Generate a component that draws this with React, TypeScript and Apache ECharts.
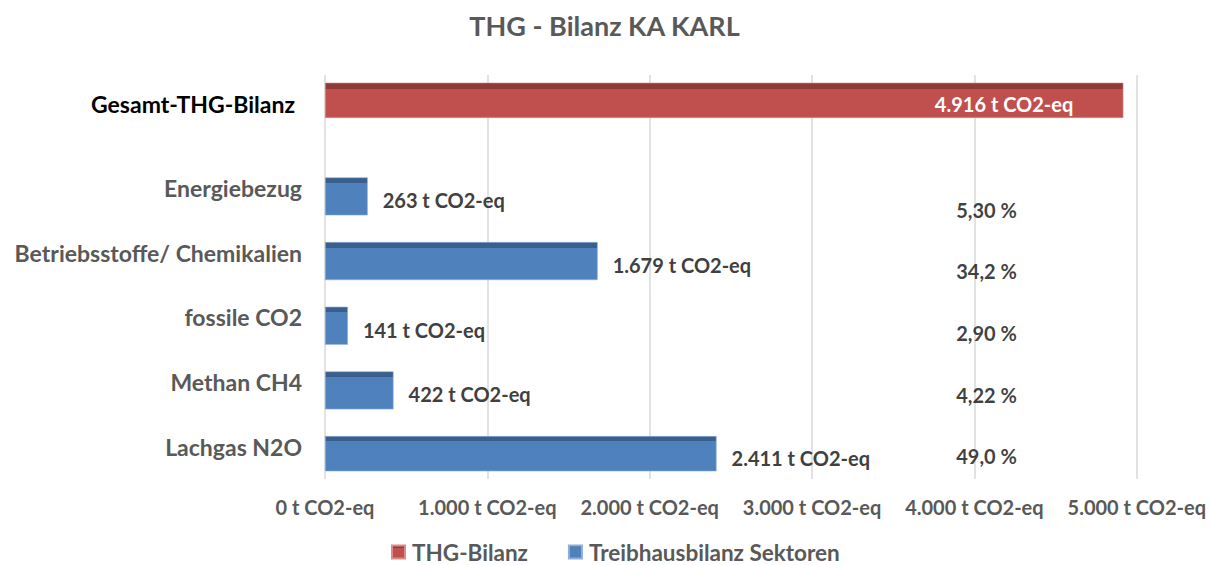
import React, { useEffect, useRef } from "react";
import * as echarts from "echarts";

const TITLE = "THG - Bilanz KA KARL";
const TOTAL_LABEL = "Gesamt-THG-Bilanz";
const TOTAL_VALUE = 4916;
const SECTORS = ["Energiebezug", "Betriebsstoffe/ Chemikalien", "fossile CO2", "Methan CH4", "Lachgas N2O"];
const SECTOR_VALUES = [263, 1679, 141, 422, 2411];
const SECTOR_PERCENTS = [5.30, 34.2, 2.90, 4.22, 49.0];
const X_TICKS = [0, 1000, 2000, 3000, 4000, 5000];
const SERIES_NAMES = ["THG-Bilanz", "Treibhausbilanz Sektoren"];

const FONT = "Lato, 'Noto Sans', sans-serif";
const RED = "#C0504D";
const RED_DARK = "#8E3A38";
const BLUE = "#4F81BD";
const BLUE_DARK = "#3A5F8C";

function fmtThousands(v: number): string {
  const s = Math.round(v).toString();
  return s.replace(/\B(?=(\d{3})+(?!\d))/g, ".");
}
function fmtPct(v: number): string {
  return v.toPrecision(3).replace(".", ",") + " %";
}
function bandFill(light: string, dark: string, band: number) {
  return new echarts.graphic.LinearGradient(0, 0, 0, 1, [
    { offset: 0, color: dark },
    { offset: band, color: dark },
    { offset: band, color: light },
    { offset: 1, color: light },
  ]);
}

export default function App() {
  const ref = useRef<HTMLDivElement>(null);
  useEffect(() => {
    document.body.style.margin = "0";
    if (!ref.current) return;
    const chart = echarts.init(ref.current, null, { renderer: "svg" });
    const categories = [TOTAL_LABEL, ...SECTORS];
    const redData = categories.map((_, i) => (i === 0 ? TOTAL_VALUE : "-"));
    const blueData = categories.map((_, i) => (i === 0 ? "-" : SECTOR_VALUES[i - 1]));
    const xMax = X_TICKS[X_TICKS.length - 1];
    const xInterval = X_TICKS[1] - X_TICKS[0];
    const pctAnchor = X_TICKS[4];

    const gridBase = { left: 325, right: 72, containLabel: false };
    const option: any = {
      animation: false,
      backgroundColor: "#ffffff",
      title: {
        text: TITLE,
        left: "center",
        top: 7,
        textStyle: { fontFamily: FONT, fontSize: 27, fontWeight: "bold", color: "#595959" },
      },
      legend: {
        data: SERIES_NAMES,
        top: 540,
        left: 391,
        padding: 0,
        icon: "rect",
        itemWidth: 13,
        itemHeight: 13,
        itemGap: 40,
        textStyle: {
          fontFamily: FONT,
          fontSize: 22.5,
          lineHeight: 24,
          fontWeight: "bold",
          color: "#595959",
          padding: [0, 0, 0, 2],
        },
      },
      grid: [
        { ...gridBase, top: 83, height: 388 },
        { ...gridBase, top: 75, height: 404 },
        { ...gridBase, top: 179, height: 308 },
      ],
      xAxis: [
        { type: "value", gridIndex: 0, min: 0, max: xMax, interval: xInterval, show: false },
        {
          type: "value",
          gridIndex: 1,
          min: 0,
          max: xMax,
          interval: xInterval,
          axisLine: { show: false },
          axisTick: { show: false },
          splitLine: { show: true, lineStyle: { color: "#D9D9D9", width: 1.5 } },
          axisLabel: {
            margin: 18,
            fontFamily: FONT,
            fontSize: 20,
            fontWeight: "bold",
            color: "#595959",
            formatter: (v: number) => fmtThousands(v) + " t CO2-eq",
          },
        },
        { type: "value", gridIndex: 2, min: 0, max: xMax, interval: xInterval, show: false },
      ],
      yAxis: [
        {
          type: "category",
          gridIndex: 0,
          inverse: true,
          data: categories,
          axisLine: { show: false },
          axisTick: { show: false },
          axisLabel: {
            margin: 30,
            fontFamily: FONT,
            fontSize: 23,
            fontWeight: "bold",
            color: "#000000",
            verticalAlign: "bottom",
            lineHeight: 22,
            formatter: (v: string) => (v === TOTAL_LABEL ? v : ""),
          },
        },
        {
          type: "category",
          gridIndex: 0,
          position: "left",
          inverse: true,
          data: categories,
          axisLine: { show: false },
          axisTick: { show: false },
          axisLabel: {
            margin: 23,
            fontFamily: FONT,
            fontSize: 23,
            fontWeight: "bold",
            color: "#595959",
            verticalAlign: "top",
            lineHeight: 16,
            formatter: (v: string) => (v === TOTAL_LABEL ? "" : v),
          },
        },
        { type: "category", gridIndex: 1, data: categories, show: false },
        { type: "category", gridIndex: 2, inverse: true, data: SECTORS, show: false },
      ],
      series: [
        {
          name: SERIES_NAMES[0],
          type: "bar",
          xAxisIndex: 0,
          yAxisIndex: 0,
          data: redData,
          barWidth: 38,
          barGap: "-13.7%",
          itemStyle: { color: bandFill(RED, RED_DARK, 0.16), borderColor: "#D98C8A", borderWidth: 0.6 },
          label: {
            show: true,
            position: "insideRight",
            distance: 50,
            offset: [0, 4],
            fontFamily: FONT,
            fontSize: 20,
            fontWeight: "bold",
            color: "#ffffff",
            formatter: (p: any) => fmtThousands(p.value) + " t CO2-eq",
          },
        },
        {
          name: SERIES_NAMES[1],
          type: "bar",
          xAxisIndex: 0,
          yAxisIndex: 0,
          data: blueData,
          barWidth: 38,
          barGap: "-13.7%",
          itemStyle: { color: bandFill(BLUE, BLUE_DARK, 0.14), borderColor: "#8DB0DA", borderWidth: 0.6 },
          label: {
            show: true,
            position: "right",
            distance: 15,
            offset: [0, 4],
            fontFamily: FONT,
            fontSize: 20,
            fontWeight: "bold",
            color: "#404040",
            formatter: (p: any) => fmtThousands(p.value) + " t CO2-eq",
          },
        },
        {
          name: "Anteil",
          type: "scatter",
          xAxisIndex: 2,
          yAxisIndex: 3,
          symbolSize: 0,
          data: SECTOR_PERCENTS.map((v, i) => [pctAnchor, SECTORS[i]]),
          label: {
            show: true,
            position: "inside",
            offset: [12, 0],
            fontFamily: FONT,
            fontSize: 20,
            fontWeight: "bold",
            color: "#0D0D0D",
            formatter: (p: any) => fmtPct(SECTOR_PERCENTS[p.dataIndex]),
          },
          tooltip: { show: false },
        },
      ],
    };
    chart.setOption(option);
    return () => chart.dispose();
  }, []);
  return <div ref={ref} style={{ width: 1209, height: 565 }} />;
}
